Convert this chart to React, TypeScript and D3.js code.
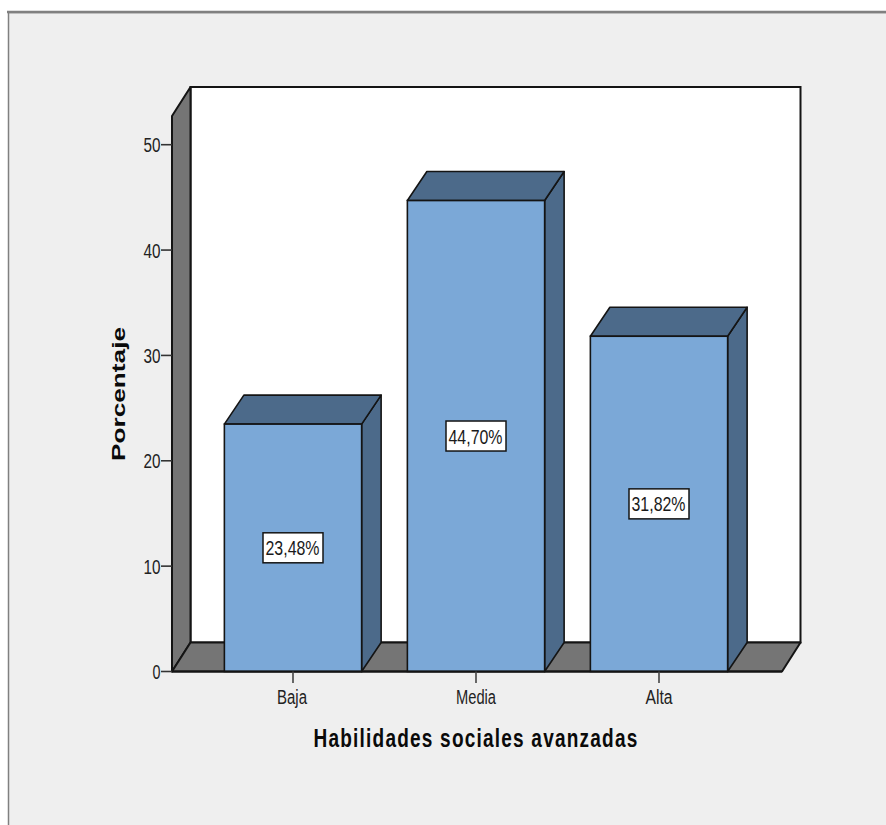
import React from "react";
import * as d3 from "d3";

const categories = ["Baja", "Media", "Alta"];
const percentages = [23.48, 44.7, 31.82];
const valueLabels = ["23,48%", "44,70%", "31,82%"];
const yTicks = [0, 10, 20, 30, 40, 50];
const xTitle = "Habilidades sociales avanzadas";
const yTitle = "Porcentaje";

const WIDTH = 886;
const HEIGHT = 825;
const DEPTH_X = 18.5;
const BAR_DEPTH_X = 19.5;
const DEPTH_Y = -29;
const FLOOR_LEFT = 172;
const FLOOR_RIGHT = 782;
const FLOOR_Y = 671.5;
const WALL_TOP = 116;

const FONT = "'Liberation Sans', Arial, sans-serif";
const INK = "#141414";
const WALL = "#757575";
const BAR_FRONT = "#7ba8d7";
const BAR_SHADE = "#4c6a8a";

const y = d3.scaleLinear().domain([0, 50]).range([FLOOR_Y, 144.7]);
const x = d3
  .scaleBand<string>()
  .domain(categories)
  .range([201.5, 750.5])
  .paddingInner(0.25)
  .paddingOuter(0.125);

const poly = (pts: [number, number][]) => {
  const line = d3.line();
  return line(pts)! + "Z";
};

// Text is set narrow and tall, as in a horizontally compressed export.
function Squeezed(props: {
  x: number;
  y: number;
  w: number;
  size: number;
  weight?: number;
  fill?: string;
  rotate?: boolean;
  anchor?: string;
  tracking?: number;
  children: string;
}) {
  const {
    x: tx,
    y: ty,
    w,
    size,
    weight = 400,
    fill = "#222",
    rotate,
    anchor = "middle",
    tracking = 0,
    children,
  } = props;
  return (
    <text
      transform={`translate(${tx},${ty})${rotate ? " rotate(-90)" : ""}`}
      textAnchor={anchor}
      fontFamily={FONT}
      fontSize={size}
      fontWeight={weight}
      fill={fill}
      letterSpacing={tracking}
      textLength={w}
      lengthAdjust="spacingAndGlyphs"
    >
      {children}
    </text>
  );
}

export default function App() {
  const bw = x.bandwidth();
  return (
    <svg
      width={WIDTH}
      height={HEIGHT}
      viewBox={`0 0 ${WIDTH} ${HEIGHT}`}
      style={{ position: "absolute", left: 0, top: 0, display: "block", background: "#fff" }}
    >
      {/* window frame */}
      <rect x={8} y={12} width={WIDTH} height={HEIGHT} fill="#efefef" />
      <path d={`M8.5,${HEIGHT}V12.5H${WIDTH}`} fill="none" stroke="#808080" strokeWidth={1.5} />
      <path d={`M7,12H${WIDTH}`} stroke="#808080" strokeWidth={2.5} />

      {/* back wall, side wall, floor */}
      <rect
        x={FLOOR_LEFT + DEPTH_X}
        y={WALL_TOP + DEPTH_Y}
        width={FLOOR_RIGHT - FLOOR_LEFT}
        height={FLOOR_Y - WALL_TOP}
        fill="#fff"
        stroke={INK}
        strokeWidth={2}
      />
      <path
        d={poly([
          [FLOOR_LEFT, FLOOR_Y],
          [FLOOR_LEFT, WALL_TOP],
          [FLOOR_LEFT + DEPTH_X, WALL_TOP + DEPTH_Y],
          [FLOOR_LEFT + DEPTH_X, FLOOR_Y + DEPTH_Y],
        ])}
        fill={WALL}
        stroke={INK}
        strokeWidth={2}
        strokeLinejoin="round"
      />
      <path
        d={poly([
          [FLOOR_LEFT, FLOOR_Y],
          [FLOOR_LEFT + DEPTH_X, FLOOR_Y + DEPTH_Y],
          [FLOOR_RIGHT + DEPTH_X, FLOOR_Y + DEPTH_Y],
          [FLOOR_RIGHT, FLOOR_Y],
        ])}
        fill={WALL}
        stroke={INK}
        strokeWidth={2}
        strokeLinejoin="round"
      />

      {/* bars */}
      {categories.map((c, i) => {
        const x0 = x(c)!;
        const x1 = x0 + bw;
        const top = y(percentages[i]);
        const cy = y(percentages[i] / 2);
        const cx = x0 + bw / 2;
        return (
          <g key={c}>
            <path
              d={poly([
                [x1, FLOOR_Y],
                [x1, top],
                [x1 + BAR_DEPTH_X, top + DEPTH_Y],
                [x1 + BAR_DEPTH_X, FLOOR_Y + DEPTH_Y],
              ])}
              fill={BAR_SHADE}
              stroke={INK}
              strokeWidth={1.6}
              strokeLinejoin="round"
            />
            <path
              d={poly([
                [x0, top],
                [x0 + BAR_DEPTH_X, top + DEPTH_Y],
                [x1 + BAR_DEPTH_X, top + DEPTH_Y],
                [x1, top],
              ])}
              fill={BAR_SHADE}
              stroke={INK}
              strokeWidth={1.6}
              strokeLinejoin="round"
            />
            <rect x={x0} y={top} width={bw} height={FLOOR_Y - top} fill={BAR_FRONT} stroke={INK} strokeWidth={1.6} />
            <rect x={cx - 30} y={cy - 15} width={60} height={30} fill="#fff" stroke={INK} strokeWidth={1.5} />
            <Squeezed x={cx - 0.5} y={cy + 7.5} w={54} size={21} fill="#1a1a1a">
              {valueLabels[i]}
            </Squeezed>
          </g>
        );
      })}

      {/* floor front edge */}
      <path d={`M${FLOOR_LEFT},${FLOOR_Y}H${FLOOR_RIGHT}`} stroke={INK} strokeWidth={2.2} />

      {/* y axis */}
      {yTicks.map((t) => (
        <g key={t}>
          <path d={`M${FLOOR_LEFT - 11},${y(t)}H${FLOOR_LEFT}`} stroke="#333" strokeWidth={1.6} />
          <Squeezed
            x={FLOOR_LEFT - 11.5}
            y={y(t) + 7.5}
            w={t === 0 ? 8 : 17}
            size={20}
            anchor="end"
          >
            {String(t)}
          </Squeezed>
        </g>
      ))}
      <Squeezed x={125} y={394} w={134} size={19} weight={700} fill="#0a0a0a" rotate>
        {yTitle}
      </Squeezed>

      {/* x axis */}
      {categories.map((c) => {
        const cx = x(c)! + bw / 2;
        return (
          <g key={c}>
            <path d={`M${cx},${FLOOR_Y}V683`} stroke="#444" strokeWidth={1.6} />
            <Squeezed x={c === "Baja" ? cx - 1 : cx} y={703.5} w={c === "Media" ? 40 : c === "Baja" ? 30 : 27} size={20}>
              {c}
            </Squeezed>
          </g>
        );
      })}
      <Squeezed x={476} y={746.5} w={325} size={25} weight={700} fill="#0a0a0a" tracking={1.6}>
        {xTitle}
      </Squeezed>
    </svg>
  );
}
